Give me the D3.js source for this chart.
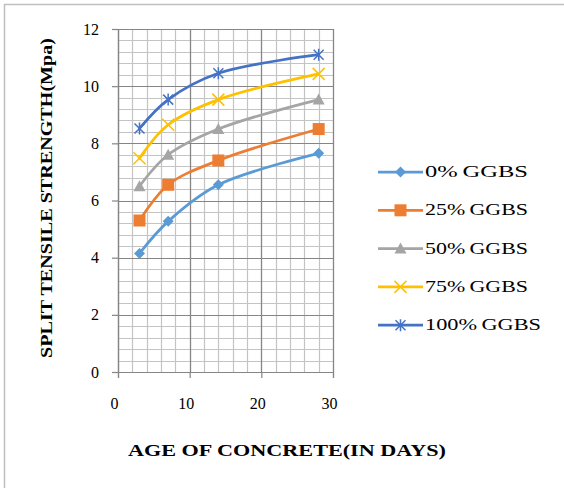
<!DOCTYPE html>
<html>
<head>
<meta charset="utf-8">
<script src="https://cdn.jsdelivr.net/npm/d3@7"></script>
<style>
  html, body { margin: 0; padding: 0; background: #fff; }
  svg { display: block; }
</style>
</head>
<body>
<svg id="chart" width="564" height="488"></svg>
<script>
// Age of concrete (days) at which the specimens were tested
const days = [3, 7, 14, 28];

// Split tensile strength (MPa) for each GGBS replacement level
const ggbs0   = [4.15, 5.27, 6.55, 7.65];
const ggbs25  = [5.3, 6.55, 7.4, 8.5];
const ggbs50  = [6.5, 7.6, 8.5, 9.53];
const ggbs75  = [7.48, 8.65, 9.53, 10.43];
const ggbs100 = [8.52, 9.53, 10.45, 11.1];

const seriesNames = ["0% GGBS", "25% GGBS", "50% GGBS", "75% GGBS", "100% GGBS"];
const seriesColors = ["#5B9BD5", "#ED7D31", "#A5A5A5", "#FFC000", "#4472C4"];
const seriesMarkers = ["diamond", "square", "triangle", "x", "star"];

const xTicks = [0, 10, 20, 30];
const yTicks = [0, 2, 4, 6, 8, 10, 12];

const allSeries = [ggbs0, ggbs25, ggbs50, ggbs75, ggbs100].map((vals, i) => ({
  name: seriesNames[i],
  color: seriesColors[i],
  marker: seriesMarkers[i],
  points: vals.map((v, j) => ({ x: days[j], y: v }))
}));

const svg = d3.select("#chart");

// outer chart frame
svg.append("path")
  .attr("d", "M4.5,488 L4.5,4.5 L564,4.5")
  .attr("fill", "none")
  .attr("stroke", "#BFBFBF")
  .attr("stroke-width", 1.5);

const plot = { left: 118, right: 333, top: 29, bottom: 372 };

const x = d3.scaleLinear().domain([0, 30]).range([plot.left, plot.right]);
const y = d3.scaleLinear().domain([0, 12]).range([plot.bottom, plot.top]);

const g = svg.append("g");

// minor gridlines
const minorX = d3.range(0, 30.001, 2);
const minorY = d3.range(0, 12.001, 0.4);
g.append("g").selectAll("line").data(minorX).join("line")
  .attr("x1", d => Math.round(x(d)) + 0.5).attr("x2", d => Math.round(x(d)) + 0.5)
  .attr("y1", plot.top).attr("y2", plot.bottom)
  .attr("stroke", "#C4C4C4").attr("stroke-width", 1.2);
g.append("g").selectAll("line").data(minorY).join("line")
  .attr("y1", d => Math.round(y(d)) + 0.5).attr("y2", d => Math.round(y(d)) + 0.5)
  .attr("x1", plot.left).attr("x2", plot.right)
  .attr("stroke", "#C4C4C4").attr("stroke-width", 1.2);

// major gridlines
g.append("g").selectAll("line").data(xTicks).join("line")
  .attr("x1", d => Math.round(x(d)) + 0.5).attr("x2", d => Math.round(x(d)) + 0.5)
  .attr("y1", plot.top).attr("y2", plot.bottom)
  .attr("stroke", "#858585").attr("stroke-width", 1.2);
g.append("g").selectAll("line").data(yTicks).join("line")
  .attr("y1", d => Math.round(y(d)) + 0.5).attr("y2", d => Math.round(y(d)) + 0.5)
  .attr("x1", plot.left).attr("x2", plot.right)
  .attr("stroke", "#858585").attr("stroke-width", 1.2);

// axes
const tickFont = "'Liberation Serif', 'Times New Roman', serif";
const xAxis = svg.append("g")
  .attr("transform", `translate(0,${plot.bottom})`)
  .call(d3.axisBottom(x).tickValues(xTicks).tickSize(6).tickPadding(20));
const yAxis = svg.append("g")
  .attr("transform", `translate(${plot.left},0)`)
  .call(d3.axisLeft(y).tickValues(yTicks).tickSize(6).tickPadding(13));

[xAxis, yAxis].forEach(ax => {
  ax.select(".domain").attr("stroke", "#858585").attr("stroke-width", 1.2);
  ax.selectAll(".tick line").attr("stroke", "#858585").attr("stroke-width", 1.2);
  ax.selectAll(".tick text")
    .attr("fill", "#000")
    .style("font-family", tickFont)
    .style("font-size", "16px");
});
xAxis.selectAll(".tick text").attr("dx", "-4");

// series lines (smoothed)
const line = d3.line()
  .x(d => x(d.x))
  .y(d => y(d.y))
  .curve(d3.curveCatmullRom.alpha(0.5));

svg.append("g").selectAll("path").data(allSeries).join("path")
  .attr("d", d => line(d.points))
  .attr("fill", "none")
  .attr("stroke", d => d.color)
  .attr("stroke-width", 2.75)
  .attr("stroke-linecap", "round");

// marker drawing
function drawMarker(sel, type, color, cx, cy) {
  const m = sel.append("g").attr("transform", `translate(${cx},${cy})`);
  if (type === "diamond") {
    m.append("path").attr("d", "M0,-5.5 L5.5,0 L0,5.5 L-5.5,0 Z").attr("fill", color);
  } else if (type === "square") {
    m.append("rect").attr("x", -6).attr("y", -6).attr("width", 12).attr("height", 12).attr("fill", color);
  } else if (type === "triangle") {
    m.append("path").attr("d", "M0,-6 L6,5 L-6,5 Z").attr("fill", color);
  } else if (type === "x") {
    m.append("path").attr("d", "M-6,-6 L6,6 M-6,6 L6,-6").attr("stroke", color).attr("stroke-width", 1.5);
  } else if (type === "star") {
    m.append("path").attr("d", "M-5,-5 L5,5 M-5,5 L5,-5 M0,-6 L0,6")
      .attr("stroke", color).attr("stroke-width", 1.5);
  }
}

const markers = svg.append("g");
allSeries.forEach(s => {
  s.points.forEach(p => drawMarker(markers, s.marker, s.color, x(p.x), y(p.y)));
});

// axis titles
svg.append("text")
  .attr("x", 287).attr("y", 456)
  .attr("text-anchor", "middle")
  .attr("textLength", 318)
  .attr("lengthAdjust", "spacingAndGlyphs")
  .style("font-family", tickFont)
  .style("font-weight", "bold")
  .style("font-size", "17px")
  .text("AGE OF CONCRETE(IN DAYS)");

svg.append("text")
  .attr("transform", "translate(52,198) rotate(-90)")
  .attr("text-anchor", "middle")
  .attr("textLength", 320)
  .attr("lengthAdjust", "spacingAndGlyphs")
  .style("font-family", tickFont)
  .style("font-weight", "bold")
  .style("font-size", "17px")
  .text("SPLIT TENSILE STRENGTH(Mpa)");

// legend
const legend = svg.append("g");
allSeries.forEach((s, i) => {
  const ly = 172 + i * 38.3;
  legend.append("line")
    .attr("x1", 378).attr("x2", 423)
    .attr("y1", ly).attr("y2", ly)
    .attr("stroke", s.color).attr("stroke-width", 2.75);
  drawMarker(legend, s.marker, s.color, 400.5, ly);
  legend.append("text")
    .attr("x", 425).attr("y", ly + 5)
    .style("font-family", tickFont)
    .style("font-size", "16px")
    .attr("textLength", s.name.length > 8 ? 116 : 103)
    .attr("lengthAdjust", "spacingAndGlyphs")
    .text(s.name.replace(" ", "\u2009"));
});
</script>
</body>
</html>
